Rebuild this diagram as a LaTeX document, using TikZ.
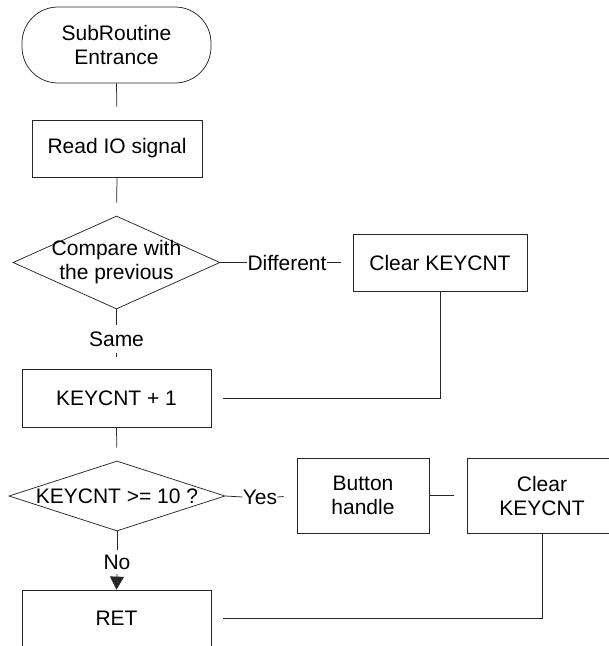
\documentclass[tikz,border=0pt]{standalone}
\usepackage{fontspec}
\setmainfont{Liberation Sans}
\usetikzlibrary{shapes.geometric,arrows.meta}

\begin{document}
\begin{tikzpicture}[x=1pt,y=1pt,
  every node/.style={font=\fontsize{21}{24}\selectfont},
  outline/.style={draw=black!85, line width=0.75pt},
  procbox/.style={outline, rectangle, inner sep=0pt, align=center},
  termbox/.style={outline, rectangle, rounded corners=36pt, inner sep=0pt, align=center},
  decision/.style={outline, diamond, inner sep=0pt},
  tag/.style={inner sep=0pt, fill=white},
  wire/.style={draw=black!85, line width=0.75pt},
  gap/.style={shorten >=#1pt},
]
\useasboundingbox (0,0) rectangle (609,-646);
\clip (0,0) rectangle (609,-646);

% blocks
\node[termbox, minimum width=189pt, minimum height=76pt] (start) at (116.5,-45) {SubRoutine\\Entrance};
\node[procbox, minimum width=170pt, minimum height=57pt] (read) at (117,-148.5) {Read IO signal};
\node[decision, minimum width=207pt, minimum height=93pt,
      label={[align=center]center:Compare with\\the previous}] (cmp) at (116.5,-262.5) {};
\node[procbox, minimum width=174pt, minimum height=57pt] (clr) at (440,-262.5) {Clear KEYCNT};
\node[procbox, minimum width=189pt, minimum height=58pt] (inc) at (116.5,-398) {KEYCNT + 1};
\node[decision, minimum width=216pt, minimum height=70pt,
      label={center:KEYCNT >= 10 ?}] (test) at (117,-496) {};
\node[procbox, minimum width=132pt, minimum height=75pt] (btn) at (363,-495.5) {Button\\handle};
\node[procbox, minimum width=150pt, minimum height=75pt] (clr2) at (542,-495.5) {Clear\\KEYCNT};
\node[procbox, minimum width=189pt, minimum height=57pt] (ret) at (116.5,-618.5) {RET};

% branch labels
\node[tag, minimum height=28pt] (same) at (116.5,-339) {Same};
\node[tag, inner xsep=0.5pt] (diff) at (287,-262.5) {Different};
\node[tag] (yes) at (260,-497) {Yes};
\node[tag, minimum height=24pt] (no) at (117,-562) {No};

% connectors
\draw[wire, gap=13] (start.south) -- (read.north);
\draw[wire, gap=13] (read.south) -- (cmp.north);
\draw[wire] (cmp.south) -- (same.north);
\draw[wire, gap=12] (same.south) -- (inc.north);
\draw[wire] (cmp.east) -- (diff.west);
\draw[wire, gap=12] (diff.east) -- (clr.west);
\draw[wire, gap=12] (clr.south) |- (inc.east);
\draw[wire, gap=13] (inc.south) -- (test.north);
\draw[wire] (test.east) -- (yes.west);
\draw[wire, gap=13] (yes.east) -- (btn.west);
\draw[wire, gap=13] (btn.east) -- (clr2.west);
\draw[wire] (test.south) -- (no.north);
\draw[wire, -{Triangle[width=14pt,length=13pt]}] (no.south) -- (ret.north);
\draw[wire, gap=12] (clr2.south) |- (ret.east);
\end{tikzpicture}
\end{document}
